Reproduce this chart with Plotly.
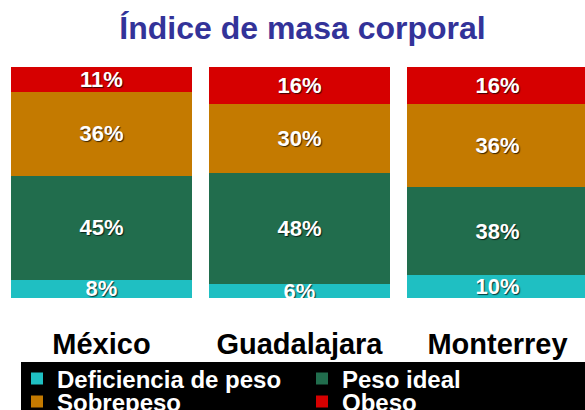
import plotly.graph_objects as go

categories = ["México", "Guadalajara", "Monterrey"]
series_names = ["Deficiencia de peso", "Peso ideal", "Sobrepeso", "Obeso"]
deficiencia = [8, 6, 10]
peso_ideal = [45, 48, 38]
sobrepeso = [36, 30, 36]
obeso = [11, 16, 16]
title_text = "Índice de masa corporal"

series_values = [deficiencia, peso_ideal, sobrepeso, obeso]
colors = ["#1fbfc2", "#216d4d", "#c47a00", "#d60000"]
legend_ids = ["legend", "legend", "legend2", "legend2"]

FONT = "Liberation Sans, Arial, sans-serif"
xpos = list(range(len(categories)))

fig = go.Figure()
for name, vals, col, lg in zip(series_names, series_values, colors, legend_ids):
    fig.add_trace(go.Bar(
        name=name,
        x=xpos,
        y=vals,
        width=0.914,
        marker=dict(color=col, line=dict(width=0)),
        text=[f"{v}%" for v in vals],
        textposition="inside",
        insidetextanchor="middle",
        constraintext="none",
        textangle=0,
        textfont=dict(family=FONT, size=22, color="white", weight="bold",
                      shadow="1px 1px 1px rgba(0,0,0,0.7)"),
        legend=lg,
        hoverinfo="skip",
    ))

fig.update_layout(
    width=585, height=410,
    barmode="stack",
    margin=dict(l=2, r=0, t=67, b=112, autoexpand=False),
    paper_bgcolor="white",
    plot_bgcolor="white",
    title=dict(text=title_text, x=302.5 / 585, xanchor="center", xref="container",
               y=1 - 28 / 410, yanchor="middle", yref="container",
               font=dict(family=FONT, size=32, color="#333399", weight="bold")),
    xaxis=dict(range=[-0.5025, 2.442], tickvals=xpos, ticktext=categories,
               showgrid=False, zeroline=False, showline=False, ticks="",
               tickfont=dict(family=FONT, size=29, color="black", weight="bold"),
               ticklabelstandoff=26, automargin=False),
    yaxis=dict(range=[0, 100], visible=False),
    shapes=[dict(type="rect", xref="paper", yref="paper",
                 x0=(21 - 2) / 583, x1=1.02, y0=(298 - 362) / 231, y1=(298 - 420) / 231,
                 fillcolor="black", line=dict(width=0), layer="above")],
    legend=dict(orientation="h", xref="container", yref="container",
                x=17 / 585, xanchor="left", y=1 - 379 / 410, yanchor="middle",
                bgcolor="rgba(0,0,0,0)", entrywidth=240, entrywidthmode="pixels",
                font=dict(family=FONT, size=24, color="white", weight="bold"),
                traceorder="normal"),
    legend2=dict(orientation="h", xref="container", yref="container",
                 x=17 / 585, xanchor="left", y=1 - 402 / 410, yanchor="middle",
                 bgcolor="rgba(0,0,0,0)", entrywidth=240, entrywidthmode="pixels",
                 font=dict(family=FONT, size=24, color="white", weight="bold"),
                 traceorder="normal"),
    showlegend=True,
)

fig.write_html("out.html",
               config={"displayModeBar": False},
               post_script="document.body.style.margin='0';document.body.style.overflow='hidden';")
